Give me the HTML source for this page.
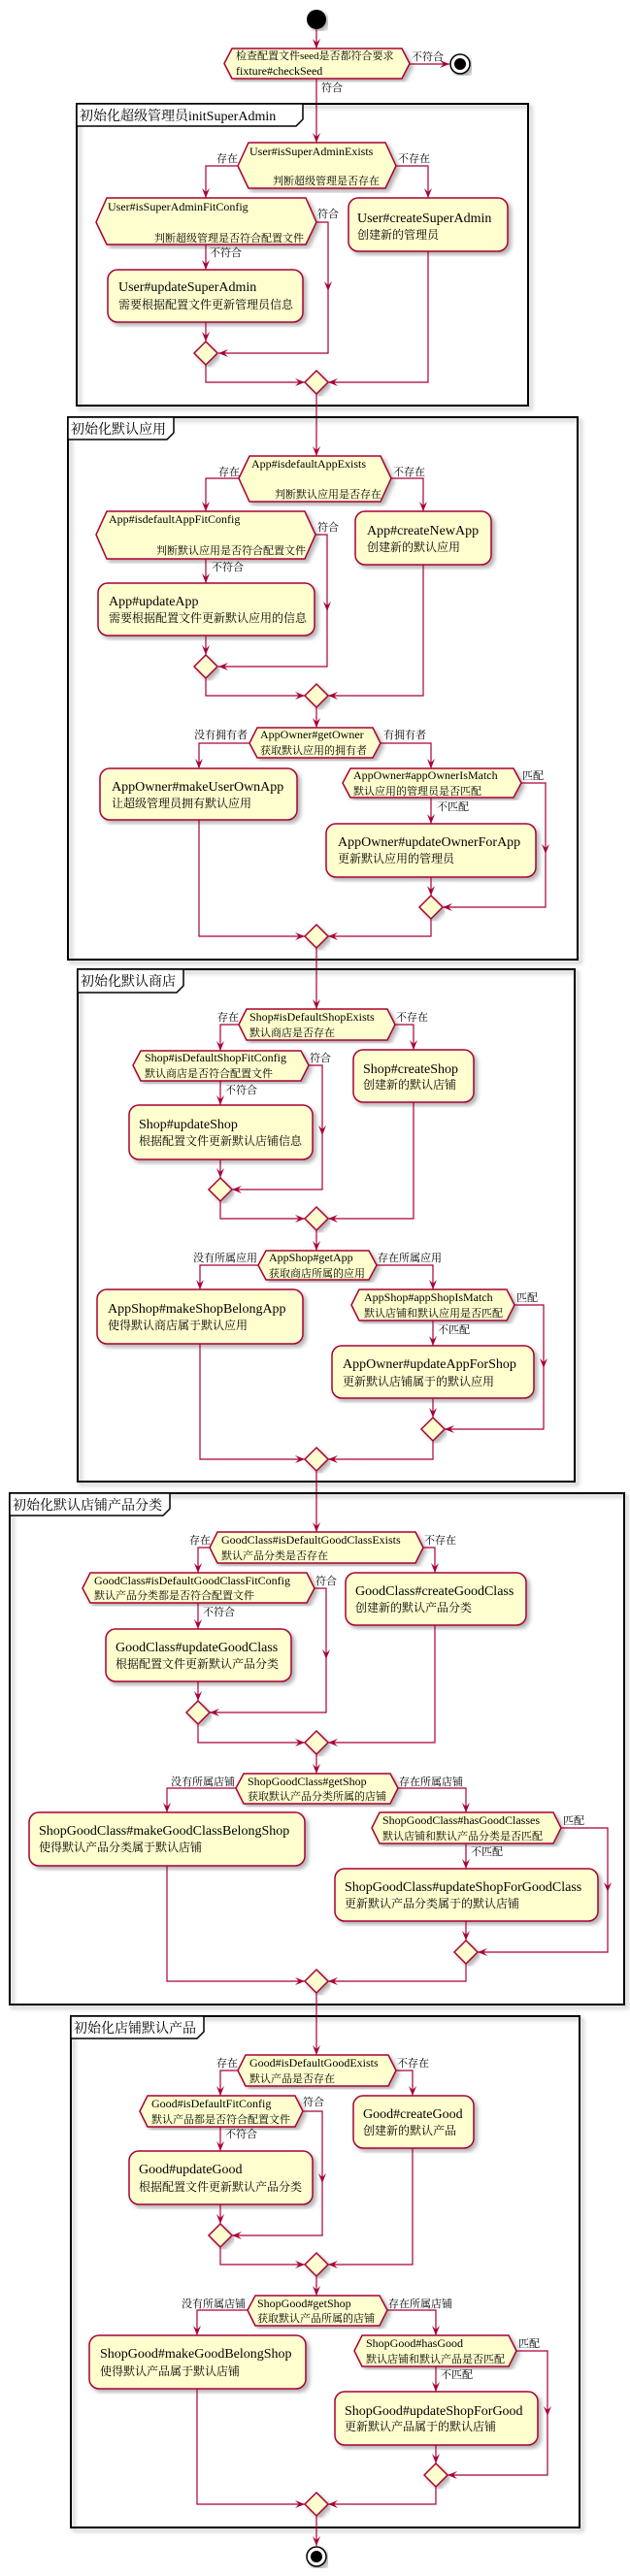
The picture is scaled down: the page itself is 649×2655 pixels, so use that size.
<!DOCTYPE html>
<html><head><meta charset="utf-8"><style>
html,body{margin:0;padding:0;background:#fff;}
svg{display:block;}
text{font-family:"Liberation Serif","Noto Serif CJK SC","Noto Sans CJK SC",serif;fill:#000;}
.b{fill:#FEFECE;stroke:#A80036;stroke-width:1.5;filter:url(#s);}
.l{fill:none;stroke:#A80036;stroke-width:1.2;}
.d{font-size:12px;}
.dc{font-size:11px;}
.t{font-size:14px;}
.c{font-size:12px;}
.lb{font-size:11px;}
.f{fill:none;stroke:#000;stroke-width:2;filter:url(#s);}
.ft{font-size:14px;}
</style></head><body>
<svg width="649" height="2655" viewBox="0 0 649 2655" xmlns="http://www.w3.org/2000/svg">
<defs>
<filter id="s" x="-5%" y="-5%" width="115%" height="115%"><feDropShadow dx="3" dy="3" stdDeviation="2" flood-color="#000" flood-opacity="0.3"/></filter>
<marker id="a" viewBox="0 0 10 8" refX="10" refY="4" markerWidth="10" markerHeight="8" markerUnits="userSpaceOnUse" orient="auto"><path d="M0,0 L10,4 L0,8 L4,4 Z" fill="#A80036"/></marker>
</defs>

<circle cx="326" cy="20" r="10" fill="#000" filter="url(#s)"/>
<line class="l" x1="326" y1="30" x2="326" y2="50" marker-end="url(#a)"/>
<polygon class="b" points="231,65.5 239,50 414,50 422,65.5 414,81 239,81"/>
<text class="dc" x="243" y="61">检查配置文件seed是否都符合要求</text>
<text class="d" x="243" y="77">fixture#checkSeed</text>
<line class="l" x1="422" y1="66" x2="463" y2="66" marker-end="url(#a)"/>
<text class="lb" x="424" y="62">不符合</text>
<circle cx="474" cy="66" r="10" fill="#fff" stroke="#000" stroke-width="1.5" filter="url(#s)"/>
<circle cx="474" cy="66" r="6" fill="#000"/>
<line class="l" x1="326" y1="81" x2="326" y2="147" marker-end="url(#a)"/>
<text class="lb" x="331" y="94">符合</text>

<rect class="f" x="79" y="107" width="465" height="311"/>
<polygon points="79,107 312,107 312,123 305,130 79,130" fill="#fff" stroke="#000" stroke-width="1.5"/>
<text class="ft" x="82" y="124">初始化超级管理员initSuperAdmin</text>

<polygon class="b" points="245,171 256,147 397,147 408,171 397,194 256,194"/>
<text class="d" x="257" y="160">User#isSuperAdminExists</text>
<text class="dc" x="281" y="190">判断超级管理是否存在</text>
<text class="lb" x="223" y="167">存在</text>
<text class="lb" x="410" y="167">不存在</text>
<polyline class="l" points="245,171 212,171 212,204" marker-end="url(#a)"/>
<polygon class="b" points="99,229 110,204 315,204 326,229 315,252 110,252"/>
<text class="d" x="111" y="217">User#isSuperAdminFitConfig</text>
<text class="dc" x="159" y="249">判断超级管理是否符合配置文件</text>
<text class="lb" x="327" y="224">符合</text>
<polyline class="l" points="326,229 338,229 338,300" marker-end="url(#a)"/>
<polyline class="l" points="338,300 338,364 225,364" marker-end="url(#a)"/>
<text class="lb" x="216" y="264">不符合</text>
<line class="l" x1="212" y1="252" x2="212" y2="278" marker-end="url(#a)"/>
<rect class="b" x="111" y="278" width="201" height="54" rx="10"/>
<text class="t" x="122" y="300">User#updateSuperAdmin</text>
<text class="c" x="122" y="318">需要根据配置文件更新管理员信息</text>
<line class="l" x1="212" y1="332" x2="212" y2="352" marker-end="url(#a)"/>
<polygon class="b" points="212,352 224,364 212,376 200,364"/>
<polyline class="l" points="408,171 441,171 441,204" marker-end="url(#a)"/>
<rect class="b" x="359" y="204" width="164" height="55" rx="10"/>
<text class="t" x="368" y="229">User#createSuperAdmin</text>
<text class="c" x="368" y="246">创建新的管理员</text>
<polyline class="l" points="212,376 212,394 314,394" marker-end="url(#a)"/>
<polyline class="l" points="441,259 441,394 338,394" marker-end="url(#a)"/>
<polygon class="b" points="326,382 338,394 326,406 314,394"/>
<line class="l" x1="326" y1="406" x2="326" y2="470" marker-end="url(#a)"/>

<rect class="f" x="70" y="430" width="525" height="559"/>
<polygon points="70,430 179,430 179,446 172,453 70,453" fill="#fff" stroke="#000" stroke-width="1.5"/>
<text class="ft" x="73" y="447">初始化默认应用</text>

<polygon class="b" points="246,493 257,470 392,470 403,493 392,517 257,517"/>
<text class="d" x="259" y="482">App#isdefaultAppExists</text>
<text class="dc" x="283" y="513">判断默认应用是否存在</text>
<text class="lb" x="225" y="490">存在</text>
<text class="lb" x="405" y="490">不存在</text>
<polyline class="l" points="246,493 212,493 212,527" marker-end="url(#a)"/>
<polygon class="b" points="99,551 110,527 314,527 325,551 314,576 110,576"/>
<text class="d" x="112" y="539">App#isdefaultAppFitConfig</text>
<text class="dc" x="161" y="571">判断默认应用是否符合配置文件</text>
<text class="lb" x="327" y="547">符合</text>
<polyline class="l" points="325,551 337,551 337,630" marker-end="url(#a)"/>
<polyline class="l" points="337,630 337,687 225,687" marker-end="url(#a)"/>
<text class="lb" x="218" y="588">不符合</text>
<line class="l" x1="212" y1="576" x2="212" y2="601" marker-end="url(#a)"/>
<rect class="b" x="101" y="601" width="223" height="54" rx="10"/>
<text class="t" x="112" y="624">App#updateApp</text>
<text class="c" x="112" y="641">需要根据配置文件更新默认应用的信息</text>
<line class="l" x1="212" y1="655" x2="212" y2="675" marker-end="url(#a)"/>
<polygon class="b" points="212,675 224,687 212,699 200,687"/>
<polyline class="l" points="403,493 436,493 436,527" marker-end="url(#a)"/>
<rect class="b" x="366" y="527" width="140" height="55" rx="10"/>
<text class="t" x="378" y="551">App#createNewApp</text>
<text class="c" x="378" y="568">创建新的默认应用</text>
<polyline class="l" points="212,699 212,717 314,717" marker-end="url(#a)"/>
<polyline class="l" points="436,582 436,717 338,717" marker-end="url(#a)"/>
<polygon class="b" points="326,705 338,717 326,729 314,717"/>
<line class="l" x1="326" y1="729" x2="326" y2="750" marker-end="url(#a)"/>
<polygon class="b" points="257,766 265,750 384,750 392,766 384,781 265,781"/>
<text class="d" x="268" y="761">AppOwner#getOwner</text>
<text class="dc" x="268" y="777">获取默认应用的拥有者</text>
<text class="lb" x="255" y="761" text-anchor="end">没有拥有者</text>
<text class="lb" x="395" y="761">有拥有者</text>
<polyline class="l" points="257,766 205,766 205,792" marker-end="url(#a)"/>
<rect class="b" x="103" y="792" width="203" height="53" rx="10"/>
<text class="t" x="115" y="815">AppOwner#makeUserOwnApp</text>
<text class="c" x="115" y="832">让超级管理员拥有默认应用</text>
<polyline class="l" points="392,766 444,766 444,792" marker-end="url(#a)"/>
<polygon class="b" points="353,807 361,792 529,792 537,807 529,822 361,822"/>
<text class="d" x="364" y="803">AppOwner#appOwnerIsMatch</text>
<text class="dc" x="364" y="819">默认应用的管理员是否匹配</text>
<text class="lb" x="538" y="803">匹配</text>
<polyline class="l" points="537,807 562,807 562,880" marker-end="url(#a)"/>
<polyline class="l" points="562,880 562,935 456,935" marker-end="url(#a)"/>
<text class="lb" x="450" y="835">不匹配</text>
<line class="l" x1="444" y1="822" x2="444" y2="849" marker-end="url(#a)"/>
<rect class="b" x="336" y="849" width="216" height="55" rx="10"/>
<text class="t" x="348" y="872">AppOwner#updateOwnerForApp</text>
<text class="c" x="348" y="889">更新默认应用的管理员</text>
<line class="l" x1="444" y1="904" x2="444" y2="923" marker-end="url(#a)"/>
<polygon class="b" points="444,923 456,935 444,947 432,935"/>
<polyline class="l" points="205,845 205,965 314,965" marker-end="url(#a)"/>
<polyline class="l" points="444,947 444,965 338,965" marker-end="url(#a)"/>
<polygon class="b" points="326,953 338,965 326,977 314,965"/>
<line class="l" x1="326" y1="977" x2="326" y2="1040" marker-end="url(#a)"/>

<rect class="f" x="80" y="999" width="512" height="528"/>
<polygon points="80,999 189,999 189,1016 182,1023 80,1023" fill="#fff" stroke="#000" stroke-width="1.5"/>
<text class="ft" x="83" y="1016">初始化默认商店</text>

<polygon class="b" points="246,1056 254,1040 399,1040 407,1056 399,1072 254,1072"/>
<text class="d" x="257" y="1052">Shop#isDefaultShopExists</text>
<text class="dc" x="257" y="1068">默认商店是否存在</text>
<text class="lb" x="224" y="1052">存在</text>
<text class="lb" x="408" y="1052">不存在</text>
<polyline class="l" points="246,1056 227,1056 227,1083" marker-end="url(#a)"/>
<polygon class="b" points="137,1098 145,1083 310,1083 318,1098 310,1114 145,1114"/>
<text class="d" x="149" y="1094">Shop#isDefaultShopFitConfig</text>
<text class="dc" x="149" y="1110">默认商店是否符合配置文件</text>
<text class="lb" x="319" y="1094">符合</text>
<polyline class="l" points="318,1098 332,1098 332,1170" marker-end="url(#a)"/>
<polyline class="l" points="332,1170 332,1226 239,1226" marker-end="url(#a)"/>
<text class="lb" x="232" y="1127">不符合</text>
<line class="l" x1="227" y1="1114" x2="227" y2="1139" marker-end="url(#a)"/>
<rect class="b" x="133" y="1139" width="189" height="56" rx="10"/>
<text class="t" x="143" y="1163">Shop#updateShop</text>
<text class="c" x="143" y="1180">根据配置文件更新默认店铺信息</text>
<line class="l" x1="227" y1="1195" x2="227" y2="1214" marker-end="url(#a)"/>
<polygon class="b" points="227,1214 239,1226 227,1238 215,1226"/>
<polyline class="l" points="407,1056 426,1056 426,1082" marker-end="url(#a)"/>
<rect class="b" x="364" y="1082" width="124" height="54" rx="10"/>
<text class="t" x="374" y="1106">Shop#createShop</text>
<text class="c" x="374" y="1122">创建新的默认店铺</text>
<polyline class="l" points="227,1238 227,1256 314,1256" marker-end="url(#a)"/>
<polyline class="l" points="426,1136 426,1256 338,1256" marker-end="url(#a)"/>
<polygon class="b" points="326,1244 338,1256 326,1268 314,1256"/>
<line class="l" x1="326" y1="1268" x2="326" y2="1289" marker-end="url(#a)"/>
<polygon class="b" points="266,1304 274,1289 380,1289 388,1304 380,1319 274,1319"/>
<text class="d" x="277" y="1300">AppShop#getApp</text>
<text class="dc" x="277" y="1316">获取商店所属的应用</text>
<text class="lb" x="265" y="1300" text-anchor="end">没有所属应用</text>
<text class="lb" x="389" y="1300">存在所属应用</text>
<polyline class="l" points="266,1304 206,1304 206,1329" marker-end="url(#a)"/>
<rect class="b" x="100" y="1329" width="212" height="56" rx="10"/>
<text class="t" x="111" y="1353">AppShop#makeShopBelongApp</text>
<text class="c" x="111" y="1370">使得默认商店属于默认应用</text>
<polyline class="l" points="388,1304 446,1304 446,1329" marker-end="url(#a)"/>
<polygon class="b" points="362,1345 370,1329 522,1329 530,1345 522,1361 370,1361"/>
<text class="d" x="375" y="1341">AppShop#appShopIsMatch</text>
<text class="dc" x="375" y="1357">默认店铺和默认应用是否匹配</text>
<text class="lb" x="532" y="1341">匹配</text>
<polyline class="l" points="530,1345 560,1345 560,1410" marker-end="url(#a)"/>
<polyline class="l" points="560,1410 560,1473 458,1473" marker-end="url(#a)"/>
<text class="lb" x="451" y="1374">不匹配</text>
<line class="l" x1="446" y1="1361" x2="446" y2="1387" marker-end="url(#a)"/>
<rect class="b" x="342" y="1387" width="208" height="54" rx="10"/>
<text class="t" x="353" y="1410">AppOwner#updateAppForShop</text>
<text class="c" x="353" y="1428">更新默认店铺属于的默认应用</text>
<line class="l" x1="446" y1="1441" x2="446" y2="1461" marker-end="url(#a)"/>
<polygon class="b" points="446,1461 458,1473 446,1485 434,1473"/>
<polyline class="l" points="206,1385 206,1504 314,1504" marker-end="url(#a)"/>
<polyline class="l" points="446,1485 446,1504 338,1504" marker-end="url(#a)"/>
<polygon class="b" points="326,1492 338,1504 326,1516 314,1504"/>
<line class="l" x1="326" y1="1516" x2="326" y2="1579" marker-end="url(#a)"/>

<rect class="f" x="10" y="1539" width="633" height="527"/>
<polygon points="10,1539 175,1539 175,1555 168,1562 10,1562" fill="#fff" stroke="#000" stroke-width="1.5"/>
<text class="ft" x="13" y="1556">初始化默认店铺产品分类</text>

<polygon class="b" points="216,1595 224,1579 428,1579 436,1595 428,1611 224,1611"/>
<text class="d" x="228" y="1591">GoodClass#isDefaultGoodClassExists</text>
<text class="dc" x="228" y="1607">默认产品分类是否存在</text>
<text class="lb" x="195" y="1591">存在</text>
<text class="lb" x="437" y="1591">不存在</text>
<polyline class="l" points="216,1595 204,1595 204,1621" marker-end="url(#a)"/>
<polygon class="b" points="85,1637 93,1621 316,1621 324,1637 316,1652 93,1652"/>
<text class="d" x="97" y="1633">GoodClass#isDefaultGoodClassFitConfig</text>
<text class="dc" x="97" y="1648">默认产品分类都是否符合配置文件</text>
<text class="lb" x="325" y="1633">符合</text>
<polyline class="l" points="324,1637 336,1637 336,1710" marker-end="url(#a)"/>
<polyline class="l" points="336,1710 336,1765 216,1765" marker-end="url(#a)"/>
<text class="lb" x="209" y="1665">不符合</text>
<line class="l" x1="204" y1="1652" x2="204" y2="1679" marker-end="url(#a)"/>
<rect class="b" x="109" y="1679" width="191" height="54" rx="10"/>
<text class="t" x="119" y="1702">GoodClass#updateGoodClass</text>
<text class="c" x="119" y="1719">根据配置文件更新默认产品分类</text>
<line class="l" x1="204" y1="1733" x2="204" y2="1753" marker-end="url(#a)"/>
<polygon class="b" points="204,1753 216,1765 204,1777 192,1765"/>
<polyline class="l" points="436,1595 448,1595 448,1621" marker-end="url(#a)"/>
<rect class="b" x="356" y="1621" width="186" height="54" rx="10"/>
<text class="t" x="366" y="1644">GoodClass#createGoodClass</text>
<text class="c" x="366" y="1661">创建新的默认产品分类</text>
<polyline class="l" points="204,1777 204,1796 314,1796" marker-end="url(#a)"/>
<polyline class="l" points="448,1675 448,1796 338,1796" marker-end="url(#a)"/>
<polygon class="b" points="326,1784 338,1796 326,1808 314,1796"/>
<line class="l" x1="326" y1="1808" x2="326" y2="1828" marker-end="url(#a)"/>
<polygon class="b" points="243,1843 251,1828 402,1828 410,1843 402,1859 251,1859"/>
<text class="d" x="255" y="1840">ShopGoodClass#getShop</text>
<text class="dc" x="255" y="1855">获取默认产品分类所属的店铺</text>
<text class="lb" x="242" y="1840" text-anchor="end">没有所属店铺</text>
<text class="lb" x="411" y="1840">存在所属店铺</text>
<polyline class="l" points="243,1843 172,1843 172,1868" marker-end="url(#a)"/>
<rect class="b" x="30" y="1868" width="284" height="55" rx="10"/>
<text class="t" x="40" y="1891">ShopGoodClass#makeGoodClassBelongShop</text>
<text class="c" x="40" y="1908">使得默认产品分类属于默认店铺</text>
<polyline class="l" points="410,1843 480,1843 480,1868" marker-end="url(#a)"/>
<polygon class="b" points="383,1884 391,1868 570,1868 578,1884 570,1900 391,1900"/>
<text class="d" x="394" y="1880">ShopGoodClass#hasGoodClasses</text>
<text class="dc" x="394" y="1896">默认店铺和默认产品分类是否匹配</text>
<text class="lb" x="580" y="1880">匹配</text>
<polyline class="l" points="578,1884 626,1884 626,1950" marker-end="url(#a)"/>
<polyline class="l" points="626,1950 626,2012 492,2012" marker-end="url(#a)"/>
<text class="lb" x="485" y="1912">不匹配</text>
<line class="l" x1="480" y1="1900" x2="480" y2="1926" marker-end="url(#a)"/>
<rect class="b" x="345" y="1926" width="271" height="54" rx="10"/>
<text class="t" x="355" y="1949">ShopGoodClass#updateShopForGoodClass</text>
<text class="c" x="355" y="1966">更新默认产品分类属于的默认店铺</text>
<line class="l" x1="480" y1="1980" x2="480" y2="2000" marker-end="url(#a)"/>
<polygon class="b" points="480,2000 492,2012 480,2024 468,2012"/>
<polyline class="l" points="172,1923 172,2042 314,2042" marker-end="url(#a)"/>
<polyline class="l" points="480,2024 480,2042 338,2042" marker-end="url(#a)"/>
<polygon class="b" points="326,2030 338,2042 326,2054 314,2042"/>
<line class="l" x1="326" y1="2054" x2="326" y2="2118" marker-end="url(#a)"/>

<rect class="f" x="73" y="2078" width="524" height="527"/>
<polygon points="73,2078 210,2078 210,2094 203,2101 73,2101" fill="#fff" stroke="#000" stroke-width="1.5"/>
<text class="ft" x="76" y="2095">初始化店铺默认产品</text>

<polygon class="b" points="245,2134 253,2118 400,2118 408,2134 400,2150 253,2150"/>
<text class="d" x="257" y="2130">Good#isDefaultGoodExists</text>
<text class="dc" x="257" y="2146">默认产品是否存在</text>
<text class="lb" x="223" y="2130">存在</text>
<text class="lb" x="409" y="2130">不存在</text>
<polyline class="l" points="245,2134 227,2134 227,2160" marker-end="url(#a)"/>
<polygon class="b" points="144,2176 152,2160 304,2160 312,2176 304,2192 152,2192"/>
<text class="d" x="156" y="2172">Good#isDefaultFitConfig</text>
<text class="dc" x="156" y="2188">默认产品都是否符合配置文件</text>
<text class="lb" x="312" y="2170">符合</text>
<polyline class="l" points="312,2176 332,2176 332,2250" marker-end="url(#a)"/>
<polyline class="l" points="332,2250 332,2304 239,2304" marker-end="url(#a)"/>
<text class="lb" x="232" y="2203">不符合</text>
<line class="l" x1="227" y1="2192" x2="227" y2="2217" marker-end="url(#a)"/>
<rect class="b" x="133" y="2217" width="189" height="55" rx="10"/>
<text class="t" x="143" y="2240">Good#updateGood</text>
<text class="c" x="143" y="2258">根据配置文件更新默认产品分类</text>
<line class="l" x1="227" y1="2272" x2="227" y2="2292" marker-end="url(#a)"/>
<polygon class="b" points="227,2292 239,2304 227,2316 215,2304"/>
<polyline class="l" points="408,2134 425,2134 425,2160" marker-end="url(#a)"/>
<rect class="b" x="364" y="2160" width="124" height="54" rx="10"/>
<text class="t" x="374" y="2183">Good#createGood</text>
<text class="c" x="374" y="2200">创建新的默认产品</text>
<polyline class="l" points="227,2316 227,2334 314,2334" marker-end="url(#a)"/>
<polyline class="l" points="425,2214 425,2334 338,2334" marker-end="url(#a)"/>
<polygon class="b" points="326,2322 338,2334 326,2346 314,2334"/>
<line class="l" x1="326" y1="2346" x2="326" y2="2366" marker-end="url(#a)"/>
<polygon class="b" points="255,2381 263,2366 391,2366 399,2381 391,2397 263,2397"/>
<text class="d" x="265" y="2378">ShopGood#getShop</text>
<text class="dc" x="265" y="2393">获取默认产品所属的店铺</text>
<text class="lb" x="253" y="2378" text-anchor="end">没有所属店铺</text>
<text class="lb" x="400" y="2378">存在所属店铺</text>
<polyline class="l" points="255,2381 203,2381 203,2407" marker-end="url(#a)"/>
<rect class="b" x="92" y="2407" width="223" height="55" rx="10"/>
<text class="t" x="103" y="2430">ShopGood#makeGoodBelongShop</text>
<text class="c" x="103" y="2448">使得默认产品属于默认店铺</text>
<polyline class="l" points="399,2381 449,2381 449,2407" marker-end="url(#a)"/>
<polygon class="b" points="365,2423 373,2407 524,2407 532,2423 524,2439 373,2439"/>
<text class="d" x="377" y="2419">ShopGood#hasGood</text>
<text class="dc" x="377" y="2435">默认店铺和默认产品是否匹配</text>
<text class="lb" x="534" y="2419">匹配</text>
<polyline class="l" points="532,2423 564,2423 564,2490" marker-end="url(#a)"/>
<polyline class="l" points="564,2490 564,2551 461,2551" marker-end="url(#a)"/>
<text class="lb" x="454" y="2451">不匹配</text>
<line class="l" x1="449" y1="2439" x2="449" y2="2465" marker-end="url(#a)"/>
<rect class="b" x="345" y="2465" width="209" height="55" rx="10"/>
<text class="t" x="355" y="2489">ShopGood#updateShopForGood</text>
<text class="c" x="355" y="2505">更新默认产品属于的默认店铺</text>
<line class="l" x1="449" y1="2520" x2="449" y2="2539" marker-end="url(#a)"/>
<polygon class="b" points="449,2539 461,2551 449,2563 437,2551"/>
<polyline class="l" points="203,2462 203,2581 314,2581" marker-end="url(#a)"/>
<polyline class="l" points="449,2563 449,2581 338,2581" marker-end="url(#a)"/>
<polygon class="b" points="326,2569 338,2581 326,2593 314,2581"/>
<line class="l" x1="326" y1="2593" x2="326" y2="2624" marker-end="url(#a)"/>
<circle cx="326" cy="2635" r="10" fill="#fff" stroke="#000" stroke-width="1.5" filter="url(#s)"/>
<circle cx="326" cy="2635" r="6" fill="#000"/>
</svg>
</body></html>
